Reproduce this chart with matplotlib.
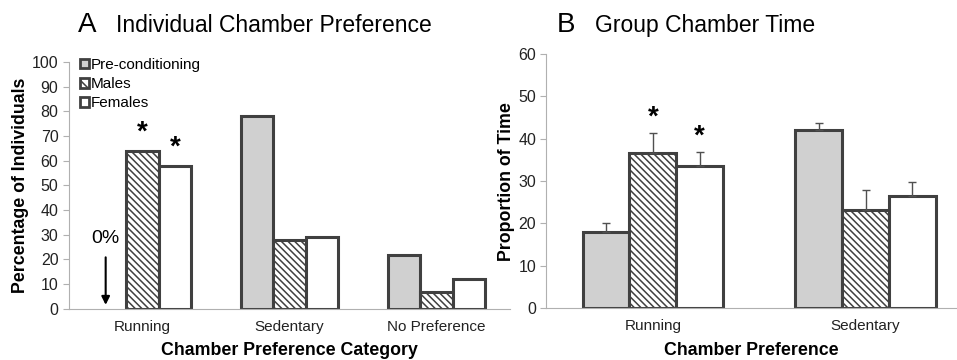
import matplotlib

matplotlib.use("Agg")
import matplotlib.pyplot as plt
from matplotlib.patches import Patch
import numpy as np

plt.rcParams["font.family"] = ["Liberation Sans", "DejaVu Sans"]
plt.rcParams["hatch.color"] = "#404040"
plt.rcParams["hatch.linewidth"] = 1.1

# Panel A
cats_a = ["Running", "Sedentary", "No Preference"]
pre_a = [0, 78, 22]
males_a = [64, 28, 7]
females_a = [58, 29, 12]

# Panel B
cats_b = ["Running", "Sedentary"]
pre_b = [18, 42]
males_b = [36.7, 23.2]
females_b = [33.5, 26.5]
pre_b_err = [2.0, 1.8]
males_b_err = [4.7, 4.7]
females_b_err = [3.3, 3.3]

series = ["Pre-conditioning", "Males", "Females"]
edge = "#404040"
grey = "#d0d0d0"
hatch = "\\\\\\\\\\"
w = 0.22

fig = plt.figure(figsize=(9.57, 3.6), dpi=100)
ax_a = fig.add_axes([0.072, 0.142, 0.461, 0.686])
ax_b = fig.add_axes([0.571, 0.144, 0.429, 0.706])


def style(ax):
    for s in ["top", "right"]:
        ax.spines[s].set_visible(False)
    ax.spines["left"].set_color("#b0b0b0")
    ax.spines["bottom"].set_color("#b0b0b0")
    ax.tick_params(axis="y", colors="#b0b0b0", labelcolor="#222222", labelsize=11.5, length=4)
    ax.tick_params(axis="x", length=0, labelsize=11, labelcolor="#222222", pad=8)


def bars(ax, x, pre, males, females, errs=None):
    kw = dict(width=w, edgecolor=edge, linewidth=2.2)
    e = errs if errs else [None, None, None]
    ekw = dict(ecolor="#505050", elinewidth=1, capsize=3, capthick=1)
    b1 = ax.bar(x - w, pre, color=grey,
                yerr=None if e[0] is None else [np.zeros(len(x)), e[0]], error_kw=ekw, **kw)
    b2 = ax.bar(x, males, color="white", hatch=hatch,
                yerr=None if e[1] is None else [np.zeros(len(x)), e[1]], error_kw=ekw, **kw)
    b3 = ax.bar(x + w, females, color="white",
                yerr=None if e[2] is None else [np.zeros(len(x)), e[2]], error_kw=ekw, **kw)
    return b1, b2, b3


xa = np.arange(len(cats_a))
hb = bars(ax_a, xa, pre_a, males_a, females_a)
# no bar for pre-conditioning running (0%)
hb[0][0].set_visible(False)
ax_a.set_xlim(-0.5, 2.5)
ax_a.set_ylim(0, 100)
ax_a.set_yticks(range(0, 101, 10))
ax_a.set_xticks(xa)
ax_a.set_xticklabels(cats_a)
style(ax_a)
ax_a.set_ylabel("Percentage of Individuals", fontsize=12.8, fontweight="bold", labelpad=2)
ax_a.set_xlabel("Chamber Preference Category", fontsize=12.8, fontweight="bold", labelpad=6)
ax_a.text(0, males_a[0] + 2, "*", ha="center", va="bottom", fontsize=20, fontweight="bold")
ax_a.text(w, females_a[0] + 2, "*", ha="center", va="bottom", fontsize=20, fontweight="bold")
ax_a.text(-w - 0.03, 25, "0%", ha="center", va="bottom", fontsize=14)
ax_a.annotate("", xy=(-w - 0.03, 0.5), xytext=(-w - 0.03, 22),
              arrowprops=dict(arrowstyle="-|>", color="black", lw=1.5, mutation_scale=12))
handles = [Patch(facecolor=grey, edgecolor=edge, linewidth=2),
           Patch(facecolor="white", edgecolor=edge, hatch="\\\\", linewidth=2),
           Patch(facecolor="white", edgecolor=edge, linewidth=2)]
ax_a.legend(handles, series, loc="upper left", bbox_to_anchor=(0.0, 1.06), frameon=False, fontsize=11,
            handlelength=0.6, handleheight=0.6, handletextpad=0.15, labelspacing=0.35,
            borderaxespad=0.3)
fig.text(0.081, 0.93, "A", fontsize=20, va="center")
fig.text(0.121, 0.93, "Individual Chamber Preference", fontsize=16.5, va="center")

xb = np.arange(len(cats_b))
bars(ax_b, xb, pre_b, males_b, females_b, [pre_b_err, males_b_err, females_b_err])
ax_b.set_xlim(-0.5, 1.43)
ax_b.set_ylim(0, 60)
ax_b.set_yticks(range(0, 61, 10))
ax_b.set_xticks(xb)
ax_b.set_xticklabels(cats_b)
style(ax_b)
ax_b.set_ylabel("Proportion of Time", fontsize=12.8, fontweight="bold", labelpad=2)
ax_b.set_xlabel("Chamber Preference", fontsize=12.8, fontweight="bold", labelpad=6)
ax_b.text(0, males_b[0] + males_b_err[0] + 0.6, "*", ha="center", va="bottom", fontsize=20, fontweight="bold")
ax_b.text(w, females_b[0] + females_b_err[0] + 0.6, "*", ha="center", va="bottom", fontsize=20, fontweight="bold")
fig.text(0.582, 0.93, "B", fontsize=20, va="center")
fig.text(0.622, 0.93, "Group Chamber Time", fontsize=16.5, va="center")

fig.savefig("out.png", dpi=100)
